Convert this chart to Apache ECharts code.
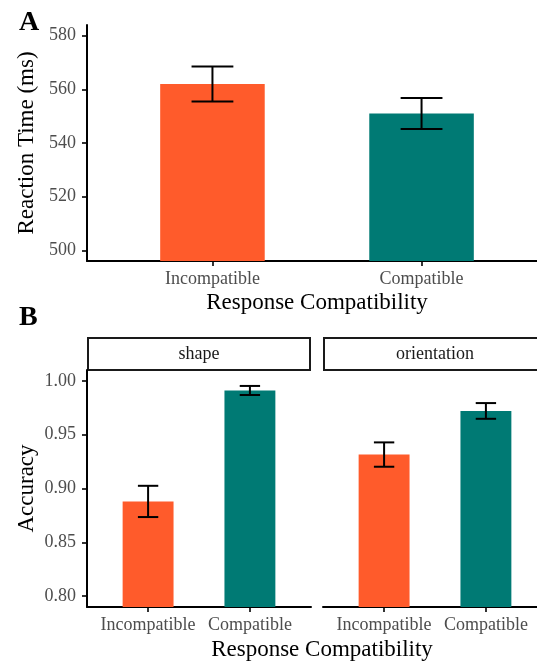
<!DOCTYPE html>
<html>
<head>
<meta charset="utf-8">
<title>Reaction time and accuracy by response compatibility</title>
<script src="https://cdn.jsdelivr.net/npm/echarts@6/dist/echarts.min.js"></script>
<style>
  html, body { margin: 0; padding: 0; background: #fff; }
  #chart { width: 537px; height: 661px; }
</style>
</head>
<body>
<div id="chart"></div>
<script>
// data
const categories = ["Incompatible", "Compatible"];
const barColors = ["#FF5B2B", "#007A74"];
const rtMean = [562, 551];
const rtSE = [6.5, 5.8];
const rtTicks = [500, 520, 540, 560, 580];
const facets = ["shape", "orientation"];
const accShapeMean = [0.888, 0.991];
const accShapeSE = [0.0145, 0.0042];
const accOrientMean = [0.9315, 0.972];
const accOrientSE = [0.0113, 0.0073];
const accTicks = [0.8, 0.85, 0.9, 0.95, 1.0];

const FONT = "Liberation Serif";
const GRAY = "#4D4D4D";

// layout of the panels (pixels); the right edge runs past the window like in the figure
const gridA = { left: 87, top: 25, width: 460, height: 236, outerBoundsMode: "none" };
const gridB = [
  { left: 87, top: 370, width: 224, height: 237, outerBoundsMode: "none" },
  { left: 323, top: 370, width: 224, height: 237, outerBoundsMode: "none" }
];
const stripTop = 338, stripH = 32;

function rows(means, ses) {
  return means.map((m, i) => [i + 1, m, ses[i], i]);
}

function renderBar(params, api) {
  const x = api.value(0), m = api.value(1), idx = api.value(3);
  const cs = params.coordSys;
  const w = api.size([0.5, 0])[0];
  const top = api.coord([x, m]);
  const bottom = cs.y + cs.height;
  return {
    type: "rect",
    shape: { x: top[0] - w / 2, y: top[1], width: w, height: bottom - top[1] },
    style: { fill: barColors[idx] }
  };
}

function renderErr(params, api) {
  const x = api.value(0), m = api.value(1), se = api.value(2);
  const hi = api.coord([x, m + se]);
  const lo = api.coord([x, m - se]);
  const half = api.size([0.1, 0])[0];
  const st = { stroke: "#000", lineWidth: 2 };
  return {
    type: "group",
    children: [
      { type: "line", shape: { x1: hi[0], y1: hi[1], x2: lo[0], y2: lo[1] }, style: st },
      { type: "line", shape: { x1: hi[0] - half, y1: hi[1], x2: hi[0] + half, y2: hi[1] }, style: st },
      { type: "line", shape: { x1: lo[0] - half, y1: lo[1], x2: lo[0] + half, y2: lo[1] }, style: st }
    ]
  };
}

function xAxisFor(gi) {
  return {
    type: "value", gridIndex: gi, min: 0.4, max: 2.6,
    splitLine: { show: false },
    axisLine: { show: true, lineStyle: { color: "#000", width: 2 } },
    axisTick: { show: true, length: 5, customValues: [1, 2], lineStyle: { color: "#000", width: 1.6 } },
    axisLabel: {
      customValues: [1, 2], margin: 9,
      formatter: v => categories[Math.round(v) - 1],
      color: GRAY, fontFamily: FONT, fontSize: 18
    }
  };
}

function yAxisFor(gi, min, max, ticks, fmt, name, show) {
  return {
    type: "value", gridIndex: gi, min: min, max: max,
    splitLine: { show: false },
    name: name, nameLocation: "middle", nameGap: 49, nameRotate: 90,
    nameTextStyle: { color: "#000", fontFamily: FONT, fontSize: 23 },
    axisLine: { show: show, lineStyle: { color: "#000", width: 2 } },
    axisTick: { show: show, length: 5, customValues: ticks, lineStyle: { color: "#000", width: 1.6 } },
    axisLabel: {
      show: show, customValues: ticks, margin: 11, formatter: fmt,
      color: GRAY, fontFamily: FONT, fontSize: 18
    }
  };
}

const chart = echarts.init(document.getElementById("chart"), null, { renderer: "canvas" });

const datasets = [rows(rtMean, rtSE), rows(accShapeMean, accShapeSE), rows(accOrientMean, accOrientSE)];
const series = [];
datasets.forEach((d, gi) => {
  series.push({ type: "custom", xAxisIndex: gi, yAxisIndex: gi, data: d, renderItem: renderBar, clip: true, silent: true });
  series.push({ type: "custom", xAxisIndex: gi, yAxisIndex: gi, data: d, renderItem: renderErr, clip: false, silent: true });
});

const strips = [];
facets.forEach((f, i) => {
  const g = gridB[i];
  strips.push({
    type: "rect",
    shape: { x: g.left + 1, y: stripTop, width: g.width - 2, height: stripH },
    style: { fill: "#fff", stroke: "#1a1a1a", lineWidth: 2 }
  });
  strips.push({
    type: "text",
    x: g.left + g.width / 2, y: stripTop + stripH / 2,
    style: { text: f, fill: "#1a1a1a", font: "18px '" + FONT + "'", textAlign: "center", textVerticalAlign: "middle" }
  });
});

chart.setOption({
  animation: false,
  backgroundColor: "#fff",
  title: [
    { text: "A", left: 14, top: 4, textStyle: { fontFamily: FONT, fontWeight: "bold", fontSize: 28, color: "#000" } },
    { text: "B", left: 14, top: 299, textStyle: { fontFamily: FONT, fontWeight: "bold", fontSize: 28, color: "#000" } },
    { text: "Response Compatibility", left: 317, top: 633, textAlign: "center",
      textStyle: { fontFamily: FONT, fontWeight: "normal", fontSize: 23, color: "#000" } }
  ],
  grid: [gridA, gridB[0], gridB[1]],
  xAxis: [
    Object.assign(xAxisFor(0), {
      name: "Response Compatibility", nameLocation: "middle", nameGap: 30,
      nameTextStyle: { color: "#000", fontFamily: FONT, fontSize: 23 }
    }),
    xAxisFor(1),
    xAxisFor(2)
  ],
  yAxis: [
    yAxisFor(0, 496, 584, rtTicks, v => String(v), "Reaction Time (ms)", true),
    yAxisFor(1, 0.79, 1.01, accTicks, v => v.toFixed(2), "Accuracy", true),
    yAxisFor(2, 0.79, 1.01, accTicks, v => v.toFixed(2), "", false)
  ],
  graphic: strips,
  series: series
});
</script>
</body>
</html>
